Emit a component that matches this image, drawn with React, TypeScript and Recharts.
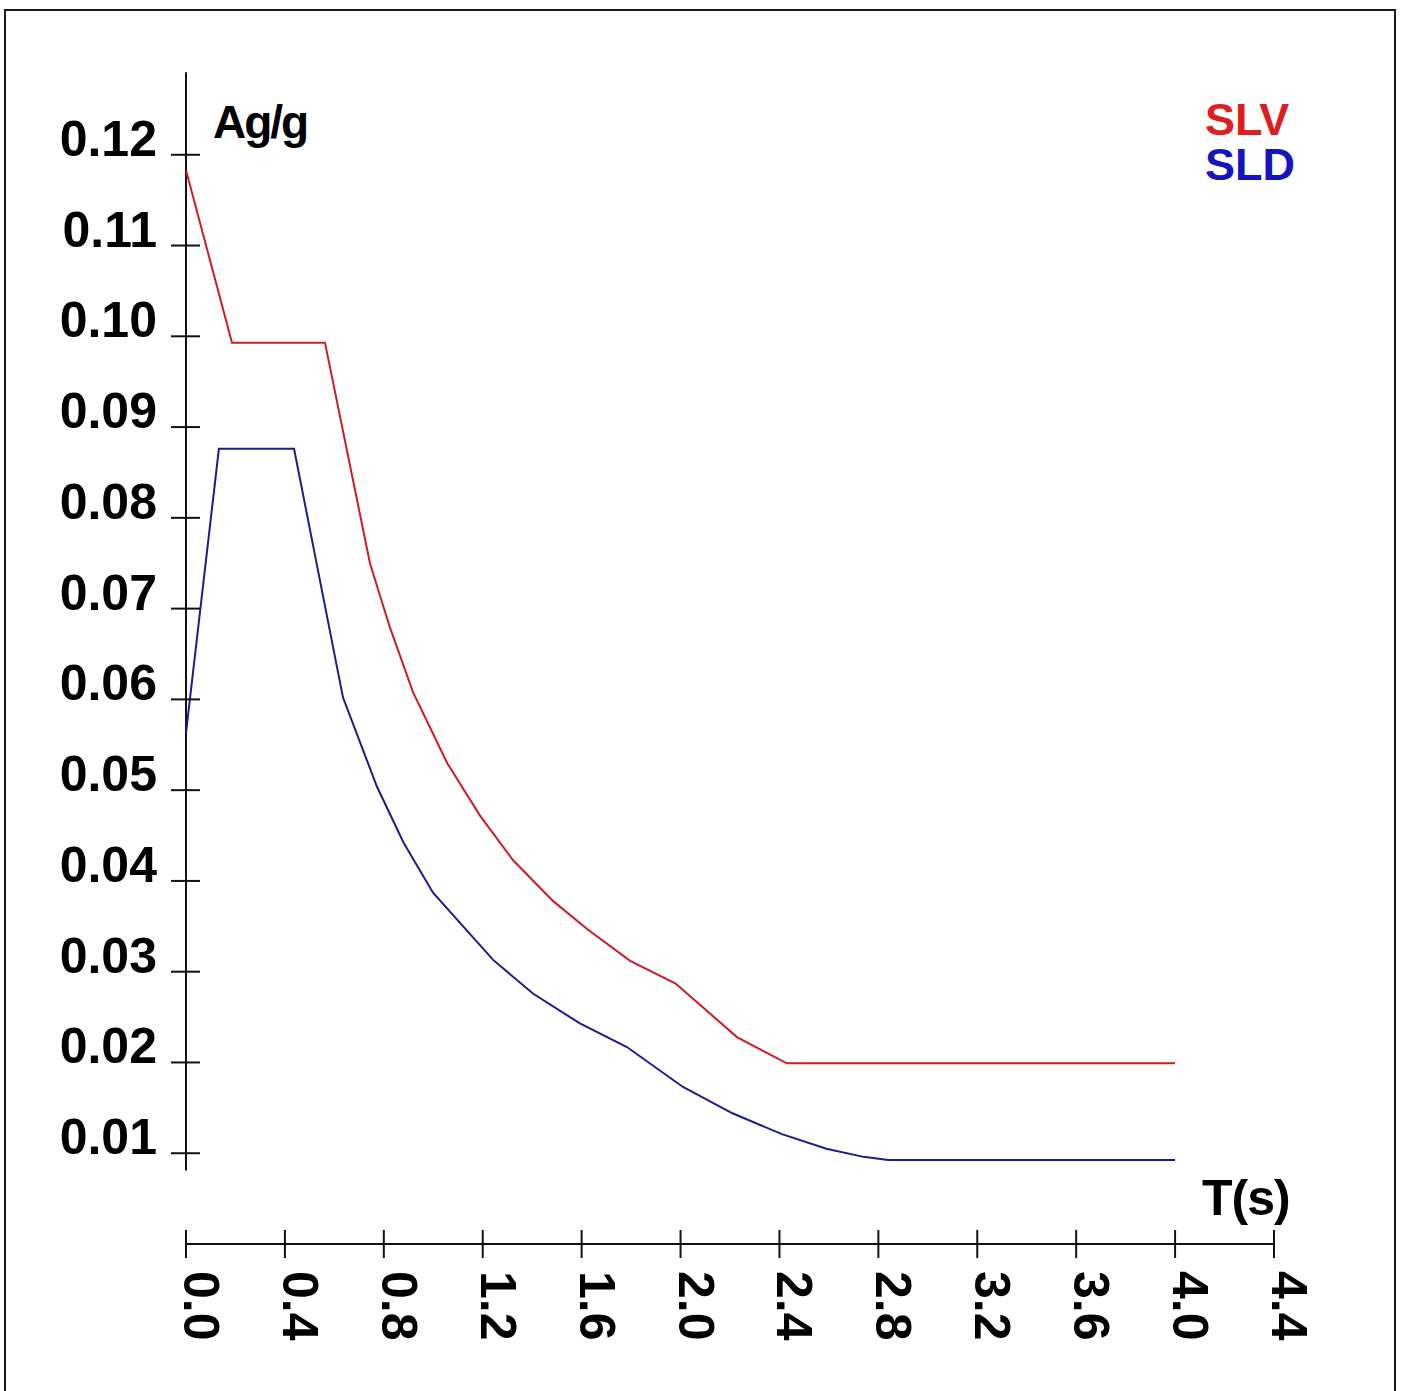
import React from 'react';
import { LineChart, Line, XAxis, YAxis, ReferenceLine } from 'recharts';

// periodi T (s) e accelerazioni spettrali Ag/g
const slvT = [0, 0.186, 0.562, 0.744, 0.825, 0.918, 1.056, 1.189, 1.322, 1.484, 1.622, 1.796, 1.98, 2.228, 2.43, 4.0];
const slvA = [0.1183, 0.0993, 0.0993, 0.075, 0.0679, 0.0608, 0.053, 0.0472, 0.0423, 0.0378, 0.0347, 0.0312, 0.0287, 0.0228, 0.0199, 0.0199];

const sldT = [0, 0.133, 0.437, 0.635, 0.772, 0.88, 0.999, 1.242, 1.403, 1.593, 1.783, 2.01, 2.21, 2.41, 2.59, 2.74, 2.84, 4.0];
const sldA = [0.0563, 0.0876, 0.0876, 0.0602, 0.0504, 0.0442, 0.0387, 0.0313, 0.0276, 0.0243, 0.0217, 0.0173, 0.0144, 0.0121, 0.0105, 0.0096, 0.00925, 0.00925];

const xTicks = [0, 0.4, 0.8, 1.2, 1.6, 2.0, 2.4, 2.8, 3.2, 3.6, 4.0, 4.4];
const yTicks = [0.01, 0.02, 0.03, 0.04, 0.05, 0.06, 0.07, 0.08, 0.09, 0.1, 0.11, 0.12];

const seriesNames = ['SLV', 'SLD'];
const seriesColors = ['#d01a24', '#1c1c8c'];
const legendColors = ['#dc1e1e', '#1414c0'];

const slvData = slvT.map((t, i) => ({ t, a: slvA[i] }));
const sldData = sldT.map((t, i) => ({ t, a: sldA[i] }));

const FONT = '"Liberation Sans", Arial, sans-serif';

const XTick = (props: any) => {
  const { x, y, payload } = props;
  return (
    <g>
      <line x1={x} x2={x} y1={y - 14} y2={y + 14} stroke="#111" strokeWidth={2} />
      <text
        transform={`translate(${x - 2}, ${y + 27}) rotate(90)`}
        textAnchor="start"
        fontFamily={FONT}
        fontWeight="bold"
        fontSize={50}
        fill="#000"
      >
        {Number(payload.value).toFixed(1)}
      </text>
    </g>
  );
};

const YTick = (props: any) => {
  const { x, y, payload } = props;
  return (
    <g>
      <line x1={x - 15} x2={x + 14} y1={y} y2={y} stroke="#111" strokeWidth={2} />
      <text
        x={x - 29}
        y={y + 1}
        textAnchor="end"
        fontFamily={FONT}
        fontWeight="bold"
        fontSize={50}
        fill="#000"
      >
        {Number(payload.value).toFixed(2)}
      </text>
    </g>
  );
};

export default function App() {
  return (
    <div style={{ position: 'absolute', left: 0, top: 0, width: 1402, height: 1391, overflow: 'hidden', background: '#fff' }}>
      <div
        style={{
          position: 'absolute',
          left: 4,
          top: 9,
          width: 1392,
          height: 1382,
          border: '2px solid #1a1a1a',
          borderBottom: 'none',
          boxSizing: 'border-box'
        }}
      />
      <div style={{ position: 'absolute', left: 0, top: 0 }}>
        <LineChart width={1402} height={1391} margin={{ top: 64, right: 128, left: 0, bottom: 0 }}>
          <XAxis
            dataKey="t"
            type="number"
            domain={[0, 4.4]}
            ticks={xTicks}
            interval={0}
            allowDataOverflow
            height={147}
            tickSize={0}
            tickMargin={0}
            tickLine={false}
            axisLine={{ stroke: '#111', strokeWidth: 2 }}
            tick={<XTick />}
          />
          <YAxis
            type="number"
            domain={[0, 0.13]}
            ticks={yTicks}
            interval={0}
            width={186}
            tickSize={0}
            tickMargin={0}
            tickLine={false}
            axisLine={false}
            tick={<YTick />}
          />
          <ReferenceLine
            segment={[{ x: 0, y: 0.0081 }, { x: 0, y: 0.1291 }]}
            stroke="#111"
            strokeWidth={2}
          />
          <Line
            data={slvData}
            dataKey="a"
            name={seriesNames[0]}
            type="linear"
            stroke={seriesColors[0]}
            strokeWidth={2}
            dot={false}
            isAnimationActive={false}
          />
          <Line
            data={sldData}
            dataKey="a"
            name={seriesNames[1]}
            type="linear"
            stroke={seriesColors[1]}
            strokeWidth={2}
            dot={false}
            isAnimationActive={false}
          />
        </LineChart>
      </div>
      {/* titoli degli assi e legenda */}
      <svg width={1402} height={1391} style={{ position: 'absolute', left: 0, top: 0, pointerEvents: 'none' }}>
        <text x={213} y={138} fontFamily={FONT} fontWeight="bold" fontSize={46} letterSpacing={-2} fill="#000">
          Ag/g
        </text>
        <text x={1202} y={1215} fontFamily={FONT} fontWeight="bold" fontSize={50} letterSpacing={-1} fill="#000">
          T(s)
        </text>
        <text x={1205} y={135} fontFamily={FONT} fontWeight="bold" fontSize={45} fill={legendColors[0]}>
          {seriesNames[0]}
        </text>
        <text x={1205} y={180} fontFamily={FONT} fontWeight="bold" fontSize={45} fill={legendColors[1]}>
          {seriesNames[1]}
        </text>
      </svg>
    </div>
  );
}
